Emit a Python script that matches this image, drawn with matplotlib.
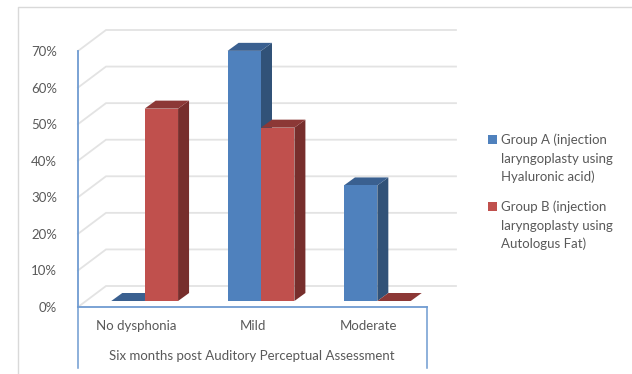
import matplotlib
matplotlib.use("Agg")
import matplotlib.pyplot as plt
from matplotlib.patches import Polygon, Rectangle
from matplotlib.lines import Line2D

plt.rcParams['font.family'] = ['Lato', 'DejaVu Sans']

categories = ["No dysphonia", "Mild", "Moderate"]
group_a = [0, 68.4, 31.6]
group_b = [52.6, 47.4, 0]
y_ticks = [0, 10, 20, 30, 40, 50, 60, 70]
axis_title = "Six months post Auditory Perceptual Assessment"
legend_a = ["Group A (injection", "laryngoplasty using", "Hyaluronic acid)"]
legend_b = ["Group B (injection", "laryngoplasty using", "Autologus Fat)"]

W, H = 632, 374
TEXT = "#595959"
AXIS = "#6F9BD1"
GRID = "#E3E3E3"

fig = plt.figure(figsize=(W / 100, H / 100), dpi=100, facecolor="white")

# Overlay in pixel units for the frame, legend and axis furniture
ov = fig.add_axes([0, 0, 1, 1], zorder=3)
ov.set_xlim(0, W)
ov.set_ylim(H, 0)
ov.axis("off")
ov.patch.set_alpha(0)

# Front plane of the plot: x in category units, y in percent
L, R, T, B = 78, 427, 51, 307
ax = fig.add_axes([L / W, 1 - B / H, (R - L) / W, (B - T) / H], zorder=2)
ax.set_xlim(0, 3)
ax.set_ylim(0, 70)
ax.patch.set_alpha(0)
px_x = 3 / (R - L)
px_y = 70 / (B - T)

for s in ("top", "right", "bottom"):
    ax.spines[s].set_visible(False)
ax.spines["left"].set_color(AXIS)
ax.spines["left"].set_linewidth(1.3)
ax.set_xticks([])
ax.set_yticks(y_ticks, [f"{v}%" for v in y_ticks])
ax.tick_params(axis="y", length=0, pad=15, labelsize=9.5, labelcolor=TEXT)

# Back wall and side wall gridlines
wall_dx, wall_dy = 28 * px_x, 21 * px_y
wall_end = 3 + 29 * px_x
for v in y_ticks:
    ax.plot([0, wall_dx, wall_end], [v, v + wall_dy, v + wall_dy],
            color=GRID, lw=1.3, clip_on=False, zorder=1, solid_joinstyle="miter")

# Extruded bars
bar_w = 33.4 * px_x
base_dx, base_dy = 8.5 * px_x, 6 * px_y
depth_dx, depth_dy = 11 * px_x, 8 * px_y


def draw_bar(x0, value, front, side, top, z):
    xl = x0 + base_dx
    xr = xl + bar_w
    y0 = base_dy
    y1 = base_dy + value
    kw = dict(clip_on=False, zorder=z, lw=0)
    ax.add_patch(Polygon([(xr, y0), (xr + depth_dx, y0 + depth_dy),
                          (xr + depth_dx, y1 + depth_dy), (xr, y1)], fc=side, **kw))
    ax.add_patch(Polygon([(xl, y1), (xr, y1), (xr + depth_dx, y1 + depth_dy),
                          (xl + depth_dx, y1 + depth_dy)], fc=top, **kw))
    if value > 0:
        ax.add_patch(Rectangle((xl, y0), bar_w, value, fc=front, **kw))


for i, (a, b) in enumerate(zip(group_a, group_b)):
    centre = i + 0.5
    draw_bar(centre - bar_w, a, "#4F81BD", "#315278", "#3A6090", 3 + i * 2)
    draw_bar(centre, b, "#C0504D", "#772E2C", "#8C3836", 4 + i * 2)

# Two-level category axis
ov.plot([L, R], [B, B], color=AXIS, lw=1.3)
ov.plot([L, L], [B, 368], color=AXIS, lw=1.1)
ov.plot([R, R], [B, 368], color=AXIS, lw=1.1)
for i, name in enumerate(categories):
    ov.text(L + (i + 0.5) * (R - L) / 3, 326, name, ha="center", va="center",
            fontsize=9.5, color=TEXT)
ov.text(251.5, 356, axis_title, ha="center", va="center", fontsize=9.5, color=TEXT)

# Legend
for y, colour, lines in ((135, "#4F81BD", legend_a), (202, "#C0504D", legend_b)):
    ov.add_patch(Rectangle((488, y), 9, 9, fc=colour, lw=0))
    for k, line in enumerate(lines):
        ov.text(501, y + 5 + k * 18.5, line, ha="left", va="center",
                fontsize=9.5, color=TEXT)

# Chart frame
ov.add_line(Line2D([17.5, 17.5, W], [H, 6.5, 6.5], color="#D9D9D9", lw=1))

fig.savefig("out.png", dpi=100)
